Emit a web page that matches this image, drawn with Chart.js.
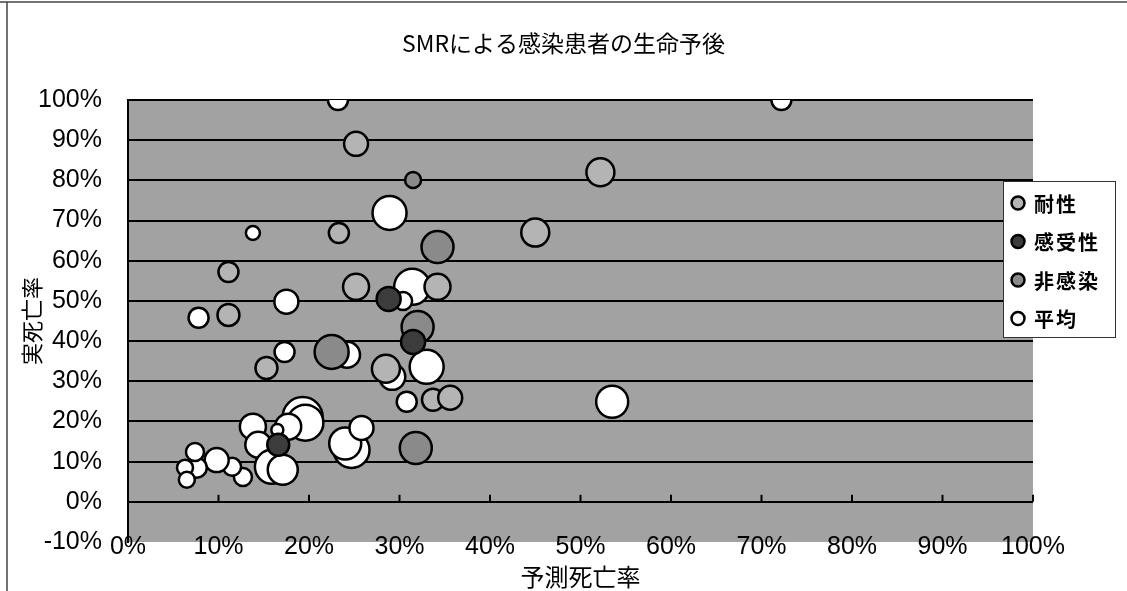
<!DOCTYPE html>
<html><head><meta charset="utf-8">
<script src="https://cdn.jsdelivr.net/npm/chart.js@4/dist/chart.umd.min.js"></script>
<style>html,body{margin:0;padding:0;background:#fff;}#wrap{width:1127px;height:591px;position:relative;}</style>
</head><body><div id="wrap"><canvas id="c" width="1127" height="591"></canvas></div>
<script>
// ---- data ----
const chartTitle = 'SMRによる感染患者の生命予後';
const xTitle = '予測死亡率';
const yTitle = '実死亡率';
const seriesNames = ['耐性', '感受性', '非感染', '平均'];
const seriesFill = ['#b4b4b4', '#3c3c3c', '#8a8a8a', '#ffffff'];

const resistantX = [25.2, 23.3, 11.1, 25.2, 34.2, 11.1, 15.3, 28.5, 33.7, 35.6, 45.0, 52.2];
const resistantY = [89.1, 66.9, 57.2, 53.5, 53.5, 46.5, 33.3, 33.1, 25.4, 25.9, 67.0, 82.0];
const resistantR = [12, 10, 10, 13, 13, 11, 11, 14, 11, 12, 14, 14];

const susceptibleX = [28.8, 31.5, 16.6];
const susceptibleY = [50.5, 39.8, 14.2];
const susceptibleR = [12, 12, 11];

const uninfectedX = [31.5, 34.2, 32.0, 22.5, 31.8];
const uninfectedY = [80.1, 63.4, 43.5, 37.3, 13.4];
const uninfectedR = [8, 16, 16, 17, 16];

const averageX = [23.2, 72.2, 28.9, 13.8, 31.4, 30.4, 17.5, 7.8, 17.3, 24.2, 29.2, 33.0, 30.8, 53.5, 24.7, 24.0, 25.8, 19.3, 19.6, 17.7, 16.5, 13.8, 14.4, 15.9, 17.1, 12.7, 11.5, 9.8, 7.6, 7.4, 6.3, 6.5];
const averageY = [100, 100, 71.9, 66.9, 53.5, 50.0, 49.8, 45.8, 37.3, 36.6, 31.1, 33.6, 24.9, 24.9, 12.9, 14.5, 18.4, 21.1, 19.7, 18.7, 17.9, 18.7, 14.2, 8.7, 8.0, 6.2, 8.7, 10.4, 8.5, 12.4, 8.5, 5.5];
const averageR = [10, 10, 17, 7, 18, 9, 12, 10, 10, 13, 13, 17, 10, 16, 18, 16, 12, 20, 18, 13, 6, 13, 13, 17, 15, 9, 9, 12, 10, 9, 8, 8];

const xMin = 0, xMax = 100, yMin = -10, yMax = 100, tickStep = 10;

// ---- build ----
function pts(xs, ys, rs) { return xs.map((x, i) => ({ x: x, y: ys[i], r: rs[i] })); }
const seriesData = [
  pts(resistantX, resistantY, resistantR),
  pts(susceptibleX, susceptibleY, susceptibleR),
  pts(uninfectedX, uninfectedY, uninfectedR),
  pts(averageX, averageY, averageR)
];

const datasets = seriesNames.map((name, i) => ({
  label: name,
  data: seriesData[i],
  backgroundColor: seriesFill[i],
  borderColor: '#000',
  borderWidth: 2.5,
  clip: 0
}));

const CJK = '"Noto Sans CJK JP", "Noto Sans", sans-serif';
const LAT = '"Liberation Sans", Arial, sans-serif';
const pct = v => v + '%';

const plotBg = {
  id: 'plotBg',
  beforeDraw(chart) {
    const { ctx, chartArea: a } = chart;
    ctx.save();
    ctx.fillStyle = '#a2a2a2';
    ctx.fillRect(a.left, a.top, a.right - a.left, a.bottom - a.top);
    ctx.strokeStyle = '#444';
    ctx.lineWidth = 1.5;
    ctx.beginPath();
    ctx.moveTo(0, 2); ctx.lineTo(chart.width, 2);
    ctx.moveTo(7, 2); ctx.lineTo(7, chart.height);
    ctx.stroke();
    ctx.restore();
  },
  beforeDatasetsDraw(chart) {
    const { ctx, scales } = chart;
    const x = scales.x, y = scales.y;
    const y0 = y.getPixelForValue(0);
    ctx.save();
    ctx.strokeStyle = '#000';
    ctx.lineWidth = 2;
    x.ticks.forEach(t => {
      const px = x.getPixelForValue(t.value);
      ctx.beginPath(); ctx.moveTo(px, y0); ctx.lineTo(px, y0 - 7); ctx.stroke();
    });
    ctx.restore();
  },
  afterDraw(chart) {
    // x tick labels overlapping the lower edge of the plot, as in the original
    const { ctx, scales, chartArea: a } = chart;
    const x = scales.x;
    ctx.save();
    ctx.font = '25px ' + LAT;
    ctx.fillStyle = '#000';
    ctx.textAlign = 'center';
    ctx.textBaseline = 'middle';
    x.ticks.forEach(t => {
      ctx.fillText(pct(t.value), x.getPixelForValue(t.value), a.bottom + 5);
    });
    ctx.restore();
  }
};

const boxLegend = {
  id: 'boxLegend',
  afterDraw(chart) {
    const { ctx } = chart;
    const bx = 1003, by = 181, bw = 112, bh = 156;
    ctx.save();
    ctx.fillStyle = '#fff';
    ctx.fillRect(bx, by, bw, bh);
    ctx.strokeStyle = '#333';
    ctx.lineWidth = 1;
    ctx.strokeRect(bx + 0.5, by + 0.5, bw, bh);
    ctx.font = 'bold 20px ' + CJK;
    ctx.textBaseline = 'middle';
    ctx.textAlign = 'left';
    try { ctx.letterSpacing = '2px'; } catch (e) {}
    chart.data.datasets.forEach((ds, i) => {
      const cy = by + 22 + i * 38.5;
      ctx.beginPath();
      ctx.arc(bx + 15, cy, 6.5, 0, Math.PI * 2);
      ctx.fillStyle = ds.backgroundColor;
      ctx.fill();
      ctx.lineWidth = 2.5;
      ctx.strokeStyle = '#000';
      ctx.stroke();
      ctx.fillStyle = '#000';
      ctx.fillText(ds.label, bx + 31, cy + 1);
    });
    ctx.restore();
  }
};

new Chart(document.getElementById('c'), {
  type: 'bubble',
  data: { datasets: datasets },
  plugins: [plotBg, boxLegend],
  options: {
    responsive: false,
    animation: false,
    events: [],
    layout: { padding: 0 },
    plugins: {
      legend: { display: false },
      tooltip: { enabled: false },
      title: {
        display: true,
        text: chartTitle,
        color: '#000',
        font: { family: CJK, size: 23, weight: 'normal', lineHeight: 1.2 },
        padding: { top: 29, bottom: 43.4 }
      }
    },
    scales: {
      x: {
        type: 'linear', min: xMin, max: xMax,
        ticks: { display: false, stepSize: tickStep, callback: pct },
        grid: { display: false, drawTicks: false },
        border: { display: false },
        title: { display: true, text: xTitle, color: '#000', font: { family: CJK, size: 24, lineHeight: 1.2 }, padding: { top: 0, bottom: 0 } },
        afterFit: s => { s.height = 49; }
      },
      y: {
        type: 'linear', min: yMin, max: yMax,
        ticks: { stepSize: tickStep, color: '#000', font: { family: LAT, size: 25 }, padding: 26, callback: pct },
        grid: { drawTicks: false, lineWidth: 2, color: c => (c.tick && c.tick.value === yMin) ? 'rgba(0,0,0,0)' : '#000' },
        border: { display: true, color: '#000', width: 2 },
        title: { display: true, text: yTitle, color: '#000', font: { family: CJK, size: 22, lineHeight: 1.2 }, padding: { top: 18, bottom: 0 } },
        afterFit: s => { s.width = 128; }
      },
      y2: {
        type: 'linear', position: 'right', min: yMin, max: yMax,
        ticks: { display: false },
        grid: { display: false, drawTicks: false },
        border: { display: false },
        afterFit: s => { s.width = 94; }
      }
    }
  }
});
</script>
</body></html>
